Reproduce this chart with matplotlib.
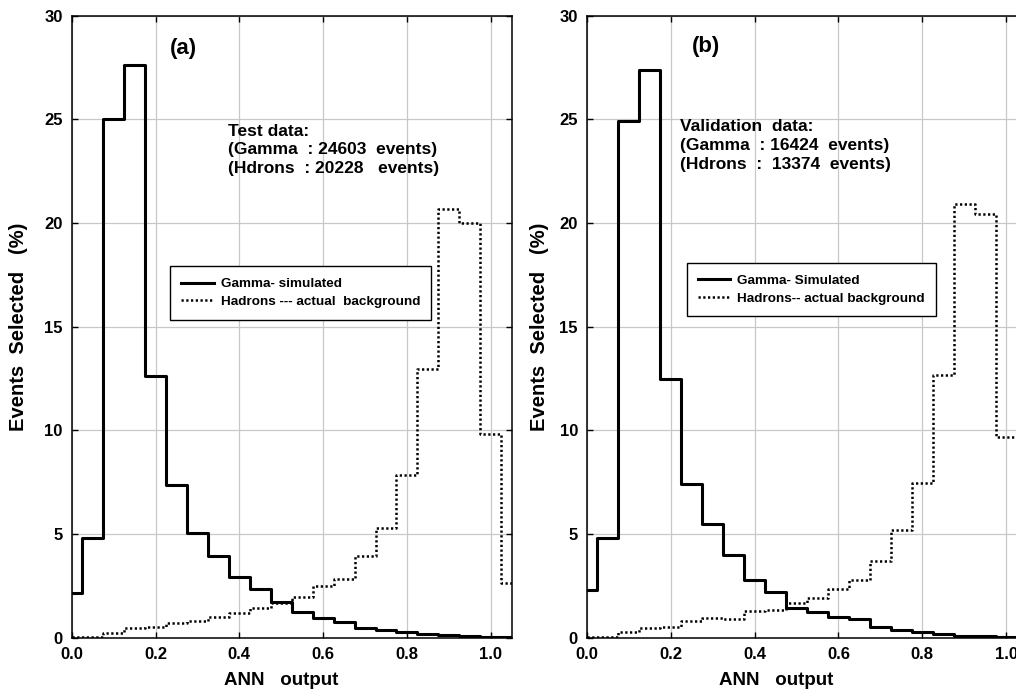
import matplotlib
matplotlib.use('Agg')
import matplotlib.pyplot as plt

# ---------------- data ----------------
ann_centers = [0.00, 0.05, 0.10, 0.15, 0.20, 0.25, 0.30, 0.35, 0.40, 0.45, 0.50,
               0.55, 0.60, 0.65, 0.70, 0.75, 0.80, 0.85, 0.90, 0.95, 1.00, 1.05]

gamma_test = [2.15, 4.82, 25.0, 27.6, 12.6, 7.38, 5.05, 3.93, 2.92, 2.33, 1.73,
              1.23, 0.93, 0.74, 0.49, 0.38, 0.28, 0.20, 0.14, 0.08, 0.05, 0.03]
hadron_test = [0.02, 0.03, 0.24, 0.45, 0.53, 0.73, 0.80, 1.02, 1.21, 1.42, 1.65,
               1.94, 2.48, 2.83, 3.95, 5.27, 7.85, 12.95, 20.7, 20.02, 9.82, 2.62]

gamma_valid = [2.32, 4.83, 24.9, 27.4, 12.47, 7.43, 5.48, 4.0, 2.8, 2.22, 1.45,
               1.22, 1.0, 0.88, 0.53, 0.35, 0.26, 0.20, 0.10, 0.10, 0.04, 0.03]
hadron_valid = [0.03, 0.05, 0.26, 0.48, 0.53, 0.82, 0.94, 0.90, 1.29, 1.34, 1.66,
                1.90, 2.36, 2.79, 3.68, 5.20, 7.48, 12.66, 20.9, 20.45, 9.67, 3.1]

x_ticks = [0.0, 0.2, 0.4, 0.6, 0.8, 1.0]
y_ticks = [0, 5, 10, 15, 20, 25, 30]

panel_tags = ['(a)', '(b)']
info_texts = ['Test data:\n(Gamma  : 24603  events)\n(Hdrons  : 20228   events)',
              'Validation  data:\n(Gamma  : 16424  events)\n(Hdrons  :  13374  events)']
gamma_labels = ['Gamma- simulated', 'Gamma- Simulated']
hadron_labels = ['Hadrons --- actual  background', 'Hadrons-- actual background']

# ---------------- style ----------------
plt.rcParams['font.family'] = ['Liberation Sans', 'DejaVu Sans']
plt.rcParams['font.weight'] = 'bold'
plt.rcParams['axes.labelweight'] = 'bold'

W, H = 1016, 689
fig = plt.figure(figsize=(W / 100, H / 100), dpi=100)

ax_w = 440 / W
ax_h = (637.7 - 15.7) / H
ax_b = (H - 637.7) / H
axes = [fig.add_axes([71.7 / W, ax_b, ax_w, ax_h]),
        fig.add_axes([587.0 / W, ax_b, ax_w, ax_h])]

gammas = [gamma_test, gamma_valid]
hadrons = [hadron_test, hadron_valid]

tag_pos = [(0.267, 28.4), (0.283, 28.5)]
info_pos = [(0.373, 24.8), (0.223, 25.0)]
leg_pos = [(0.2234, 0.597), (0.2266, 0.602)]
ylab_x = [-0.121, -0.107]
xlab_x = [0.476, 0.43]

for i, ax in enumerate(axes):
    ax.set_axisbelow(True)
    ax.grid(True, color='#c8c8c8', lw=0.9)
    ax.step(ann_centers, gammas[i], where='mid', color='black', lw=2.2,
            label=gamma_labels[i])
    ax.step(ann_centers, hadrons[i], where='mid', color='black', lw=1.8,
            linestyle=(0, (0.9, 1.0)), label=hadron_labels[i])
    ax.set_xlim(0, 1.05)
    ax.set_ylim(0, 30)
    ax.set_xticks(x_ticks)
    ax.set_xticklabels(['%.1f' % v for v in x_ticks])
    ax.set_yticks(y_ticks)
    ax.set_yticklabels([str(v) for v in y_ticks])
    ax.tick_params(direction='in', top=True, right=True, length=4, width=1.0,
                   labelsize=12)
    ax.tick_params(axis='x', pad=7)
    ax.tick_params(axis='y', pad=6.5)
    for s in ax.spines.values():
        s.set_linewidth(1.1)

    ax.set_xlabel('ANN   output', fontsize=13.5, fontweight='bold')
    ax.xaxis.set_label_coords(xlab_x[i], -0.0696)
    ax.xaxis.label.set_va('center')
    ax.set_ylabel('Events  Selected   (%)', fontsize=14.5, fontweight='bold')
    ax.yaxis.set_label_coords(ylab_x[i], 0.5)
    ax.yaxis.label.set_va('center')

    ax.text(tag_pos[i][0], tag_pos[i][1], panel_tags[i], fontsize=16,
            fontweight='bold', ha='center', va='center')
    ax.text(info_pos[i][0], info_pos[i][1], info_texts[i], fontsize=12.5,
            fontweight='bold', ha='left', va='top', linespacing=1.3)

    leg = ax.legend(loc='upper left', bbox_to_anchor=leg_pos[i],
                    prop={'weight': 'bold', 'size': 9.7}, frameon=True,
                    fancybox=False, framealpha=1, edgecolor='black',
                    handlelength=2.4, handletextpad=0.5, borderpad=0.85,
                    labelspacing=0.4, borderaxespad=0)
    leg.get_frame().set_linewidth(1.0)

fig.savefig('out.png', dpi=100)
